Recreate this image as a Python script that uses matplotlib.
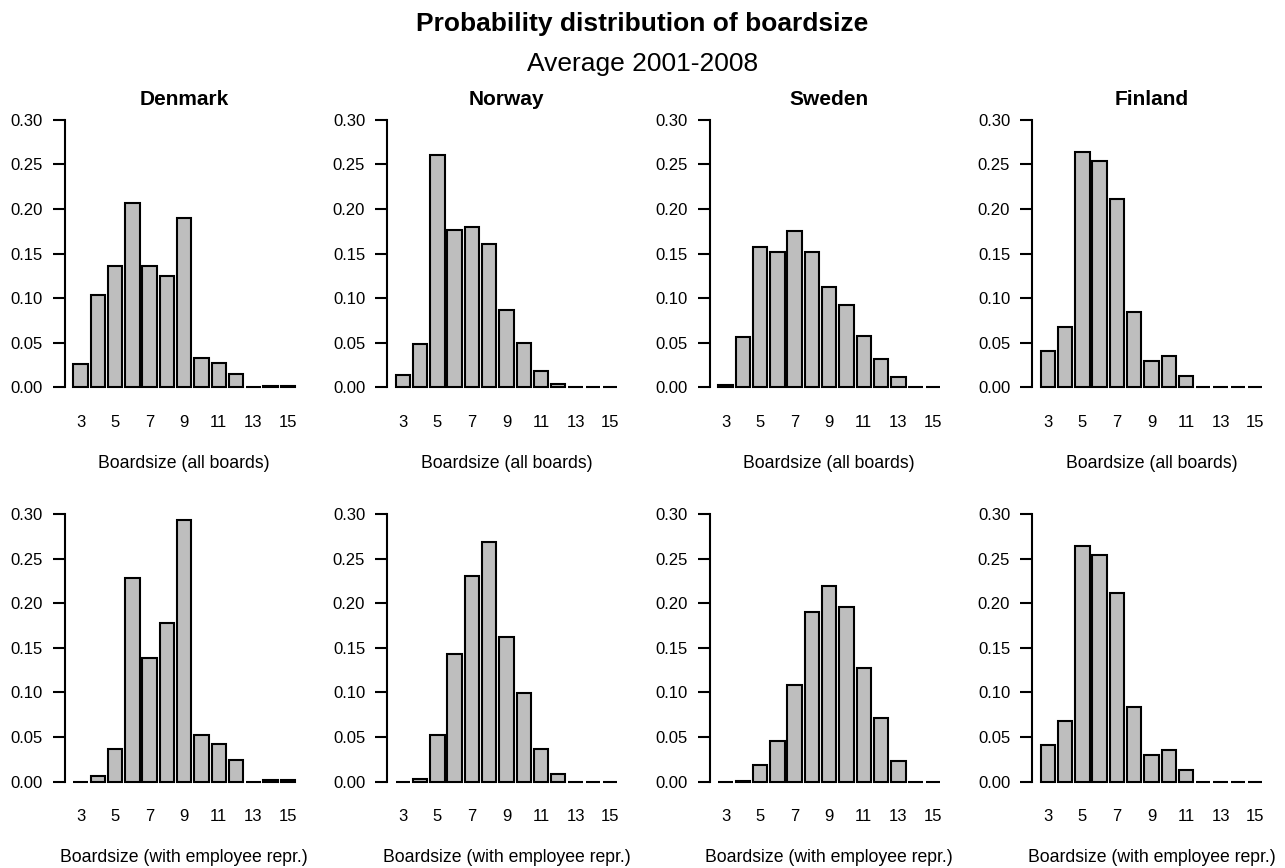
import matplotlib
matplotlib.use("Agg")
from matplotlib import pyplot as plt
import numpy as np

plt.rcParams['font.family'] = ['Liberation Sans', 'DejaVu Sans']

sizes = list(range(3, 16))
tick_labels = ["3", "5", "7", "9", "11", "13", "15"]
countries = ["Denmark", "Norway", "Sweden", "Finland"]

# all boards
den_all = [0.026, 0.103, 0.136, 0.207, 0.136, 0.125, 0.190, 0.033, 0.027, 0.015, 0.0, 0.002, 0.002]
nor_all = [0.014, 0.049, 0.260, 0.176, 0.180, 0.161, 0.087, 0.050, 0.018, 0.004, 0.0, 0.0, 0.0]
swe_all = [0.003, 0.056, 0.157, 0.152, 0.175, 0.152, 0.113, 0.092, 0.058, 0.032, 0.011, 0.0, 0.0]
fin_all = [0.041, 0.068, 0.264, 0.254, 0.211, 0.084, 0.030, 0.035, 0.013, 0.0, 0.0, 0.0, 0.0]

# with employee representatives
den_emp = [0.0, 0.006, 0.036, 0.228, 0.138, 0.178, 0.293, 0.052, 0.042, 0.024, 0.0, 0.002, 0.002]
nor_emp = [0.0, 0.003, 0.052, 0.143, 0.230, 0.269, 0.162, 0.099, 0.036, 0.008, 0.0, 0.0, 0.0]
swe_emp = [0.0, 0.001, 0.019, 0.045, 0.108, 0.190, 0.219, 0.196, 0.127, 0.071, 0.023, 0.0, 0.0]
fin_emp = [0.041, 0.068, 0.264, 0.254, 0.211, 0.084, 0.030, 0.035, 0.013, 0.0, 0.0, 0.0, 0.0]

rows = [
    ([den_all, nor_all, swe_all, fin_all], "Boardsize (all boards)"),
    ([den_emp, nor_emp, swe_emp, fin_emp], "Boardsize (with employee repr.)"),
]

W, H = 1285, 868
fig = plt.figure(figsize=(W / 100, H / 100), dpi=100)

# R barplot geometry: width 1, space 0.2
centers = 0.7 + 1.2 * np.arange(len(sizes))
xlo, xhi = 0.2, centers[-1] + 0.5
xr = xhi - xlo
xlim = (xlo - 0.04 * xr, xhi + 0.04 * xr)
ylim = (-0.012, 0.312)

px_per_x = 14.4
ax_w = (xlim[1] - xlim[0]) * px_per_x
col_left = [64.5, 386.7, 709.5, 1031.7]
row_zero = [387.3, 781.5]
px_per_y = 267.5 / 0.30

for r, (series, xlab) in enumerate(rows):
    for c, vals in enumerate(series):
        bottom_px = row_zero[r] + 0.012 * px_per_y
        ax_h = 0.324 * px_per_y
        ax = fig.add_axes([col_left[c] / W, 1 - bottom_px / H, ax_w / W, ax_h / H])
        ax.bar(centers, vals, width=1.0, color="#bebebe", edgecolor="black",
               linewidth=1.5, clip_on=False)
        ax.set_xlim(xlim)
        ax.set_ylim(ylim)
        for s in ["top", "right", "bottom"]:
            ax.spines[s].set_visible(False)
        ax.spines["left"].set_bounds(0, 0.30)
        ax.spines["left"].set_linewidth(1.5)
        ax.set_yticks([0, 0.05, 0.10, 0.15, 0.20, 0.25, 0.30])
        ax.set_yticklabels(["0.00", "0.05", "0.10", "0.15", "0.20", "0.25", "0.30"])
        ax.tick_params(axis="y", length=8.5, width=1.5, pad=7, labelsize=12)
        ax.set_xticks(centers[::2])
        ax.set_xticklabels(tick_labels)
        ax.tick_params(axis="x", length=0, pad=12, labelsize=12)
        ax.set_xlabel(xlab, fontsize=12.7, labelpad=18)
        if r == 0:
            ax.set_title(countries[c], fontsize=15, fontweight="bold", pad=3)

fig.text(0.5, 1 - 24 / H, "Probability distribution of boardsize", ha="center",
         va="center", fontsize=19, fontweight="bold")
fig.text(0.5, 1 - 64 / H, "Average 2001-2008", ha="center", va="center", fontsize=19)

fig.savefig("out.png", dpi=100)
